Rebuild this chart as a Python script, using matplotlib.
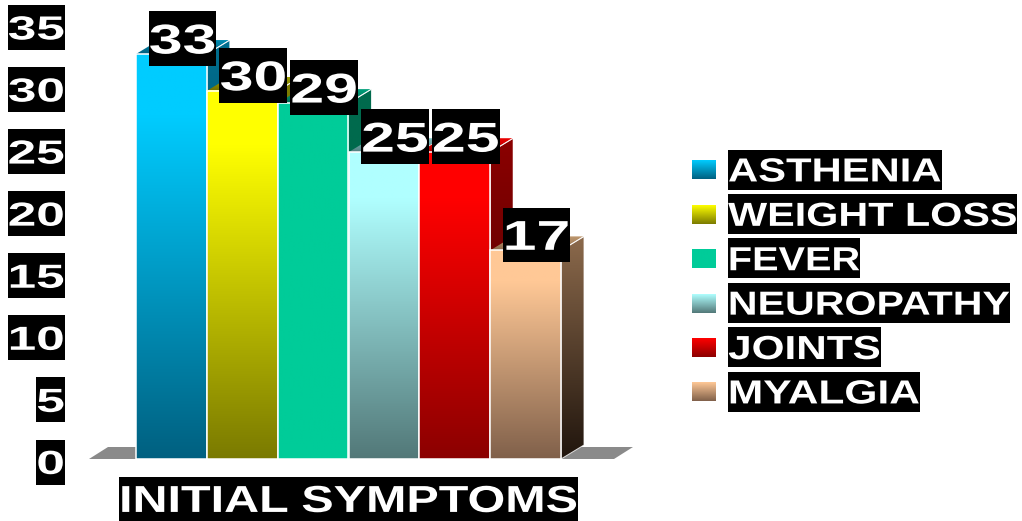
import numpy as np
import matplotlib
matplotlib.use("Agg")
import matplotlib.pyplot as plt
from matplotlib.colors import LinearSegmentedColormap, to_rgb
from matplotlib.patches import Polygon, Rectangle
from matplotlib.patheffects import AbstractPathEffect
from matplotlib.transforms import Affine2D

# Chart content
categories = ["ASTHENIA", "WEIGHT LOSS", "FEVER", "NEUROPATHY", "JOINTS", "MYALGIA"]
values = [33, 30, 29, 25, 25, 17]
axis_ticks = [0, 5, 10, 15, 20, 25, 30, 35]
axis_title = "INITIAL SYMPTOMS"

# Shading per bar: front face (top, bottom), side face (top, bottom), roof (front, back)
front_colors = [("#00ccff", "#006080"), ("#ffff00", "#7a7a00"), ("#00cc99", "#00cc99"),
                ("#b0ffff", "#527878"), ("#ff0000", "#8b0000"), ("#ffc896", "#80604a")]
side_colors = [("#006f90", "#003040"), ("#807f00", "#303000"), ("#006a4d", "#006a4d"),
               ("#5a8080", "#203030"), ("#8b0000", "#400000"), ("#8c6a4c", "#20150d")]
roof_colors = [("#005f7f", "#0090b5"), ("#6f6f00", "#a0a000"), ("#006f55", "#00a07a"),
               ("#4f7f7f", "#80c0c0"), ("#a00000", "#ee0000"), ("#8c6a4c", "#c09a70")]
# Horizontal widening of each legend entry
legend_widen = [1.253, 1.24, 1.19, 1.235, 1.268, 1.275]

W, H = 1022, 521
DPI = 100
FONT = "Liberation Sans"
DEPTH_PX = (23, 14)
FLOOR_PX = dict(left=47, right=53, dx=19, dy=12)


class Widen(AbstractPathEffect):
    """Stretch glyph outlines horizontally about the centre of the string."""

    def __init__(self, factor):
        super().__init__()
        self.factor = factor

    def draw_path(self, renderer, gc, tpath, affine, rgbFace=None):
        ext = tpath.get_extents()
        cx = (ext.x0 + ext.x1) / 2
        stretch = Affine2D().translate(-cx, 0).scale(self.factor, 1).translate(cx, 0)
        renderer.draw_path(gc, tpath, stretch + affine, rgbFace)


fig = plt.figure(figsize=(W / DPI, H / DPI), dpi=DPI, facecolor="white")

# Value axes: the front faces of the bars occupy this rectangle
left, right, base, top = 136, 561, 459, 29.5
ax = fig.add_axes([left / W, 1 - base / H, (right - left) / W, (base - top) / H])
ax.set_axis_off()
xlim, ylim = (-0.5, len(values) - 0.5), (0, 35)

# Overlay in pixel units for the text plates and the legend
px = fig.add_axes([0, 0, 1, 1], zorder=5)
px.set_axis_off()
px.patch.set_alpha(0)

unit_x = (right - left) / len(values)
unit_y = (base - top) / 35
dx, dy = DEPTH_PX[0] / unit_x, DEPTH_PX[1] / unit_y


def ramp(c0, c1, hold=0.0):
    return LinearSegmentedColormap.from_list(
        "r", [(0, to_rgb(c0)), (hold, to_rgb(c0)), (1, to_rgb(c1))])


def shade(target, box, colors, hold=0.0, clip=None, z=1):
    grad = np.linspace(0, 1, 256)[:, None]
    im = target.imshow(grad, cmap=ramp(*colors, hold=max(hold, 1e-3)), vmin=0, vmax=1,
                       extent=box, origin="upper", aspect="auto", zorder=z,
                       interpolation="bilinear")
    # Side faces and roofs reach past the axes rectangle
    im.set_clip_box(fig.bbox)
    im.set_clip_on(clip is not None)
    if clip is not None:
        target.add_patch(clip)
        im.set_clip_path(clip)
        im.set_clip_box(fig.bbox)


# Floor slab behind the bars
fl = FLOOR_PX
x0 = xlim[0] - fl["left"] / unit_x
x1 = xlim[1] + fl["right"] / unit_x
fdx, fdy = fl["dx"] / unit_x, fl["dy"] / unit_y
ax.add_patch(Polygon([(x0, 0), (x0 + fdx, fdy), (x1 + fdx, fdy), (x1, 0)],
                     closed=True, fc="#8a8a8a", ec="none", zorder=0.5, clip_on=False))

# Bars are painted left to right so each front face hides its neighbour's side
for i, v in enumerate(values):
    z = 2 + i
    xl, xr = i - 0.5, i + 0.5
    side = Polygon([(xr, 0), (xr + dx, dy), (xr + dx, v + dy), (xr, v)], closed=True,
                   fc="none", ec="none", transform=ax.transData, clip_on=False)
    shade(ax, (xr, xr + dx, 0, v + dy), side_colors[i], clip=side, z=z)
    roof = Polygon([(xl, v), (xl + dx, v + dy), (xr + dx, v + dy), (xr, v)], closed=True,
                   fc="none", ec="none", transform=ax.transData, clip_on=False)
    shade(ax, (xl, xr + dx, v, v + dy), (roof_colors[i][1], roof_colors[i][0]), clip=roof, z=z)
    for poly_pts in ([(xr, 0), (xr + dx, dy), (xr + dx, v + dy), (xr, v)],
                     [(xr, v), (xr + dx, v + dy)]):
        ax.add_patch(Polygon(poly_pts, closed=len(poly_pts) > 2, fc="none", ec="#ffffff",
                             lw=0.7, alpha=0.8, zorder=z + 0.1, clip_on=False))
    shade(ax, (xl, xr, 0, v), front_colors[i], hold=0.15, z=z + 0.2)
    ax.add_patch(Rectangle((xl, 0), 1, v, fc="none", ec="#ffffff", lw=1.1,
                           zorder=z + 0.3, clip_on=False))

ax.set_xlim(*xlim)
ax.set_ylim(*ylim)
px.set_xlim(0, W)
px.set_ylim(H, 0)

renderer = fig.canvas.get_renderer()
CAP = 0.716  # cap height of the face, in ems


def plate(x, cy, s, size, widen, plate_h, align="center", z=10):
    """White bold string on a black plate; x refers to the plate edge given by align."""
    em_px = size * DPI / 72
    txt = px.text(x, cy + CAP * em_px / 2, s, color="white", fontsize=size, family=FONT,
                  fontweight="bold", ha="center", va="baseline", zorder=z + 0.5)
    w = txt.get_window_extent(renderer).width * widen
    if align == "left":
        xc = x + w / 2
    elif align == "right":
        xc = x - w / 2
    else:
        xc = x
    txt.set_x(xc)
    txt.set_path_effects([Widen(widen)])
    px.add_patch(Rectangle((xc - w / 2, cy - plate_h / 2), w, plate_h, fc="black",
                           ec="none", zorder=z))
    return txt


def to_px(x, y):
    return px.transData.inverted().transform(ax.transData.transform((x, y)))


# Value scale down the left edge
for t in axis_ticks:
    _, cy = to_px(0, t)
    plate(65, cy + 3 - 5 * t / 35, str(t), 24, 1.54, 45, align="right")

# Value plates above each bar
for i, v in enumerate(values):
    cx, cy = to_px(i + dx / 2, v)
    plate(cx - 0.5, cy - 15.5, str(v), 30, 1.46, 54.5, z=20 + i)

# Category title under the bars
plate((left + right) / 2, 498.5, axis_title, 27, 1.293, 44)

# Legend
legend_y = np.linspace(170, 392, len(categories))
for name, y, cols, wf in zip(categories, legend_y, front_colors, legend_widen):
    shade(px, (692, 716, y + 9.5, y - 9.5), cols, z=6)
    plate(728, y - 0.5, name, 24, wf, 40, align="left")

px.set_xlim(0, W)
px.set_ylim(H, 0)
fig.savefig("out.png", dpi=DPI, facecolor="white")
